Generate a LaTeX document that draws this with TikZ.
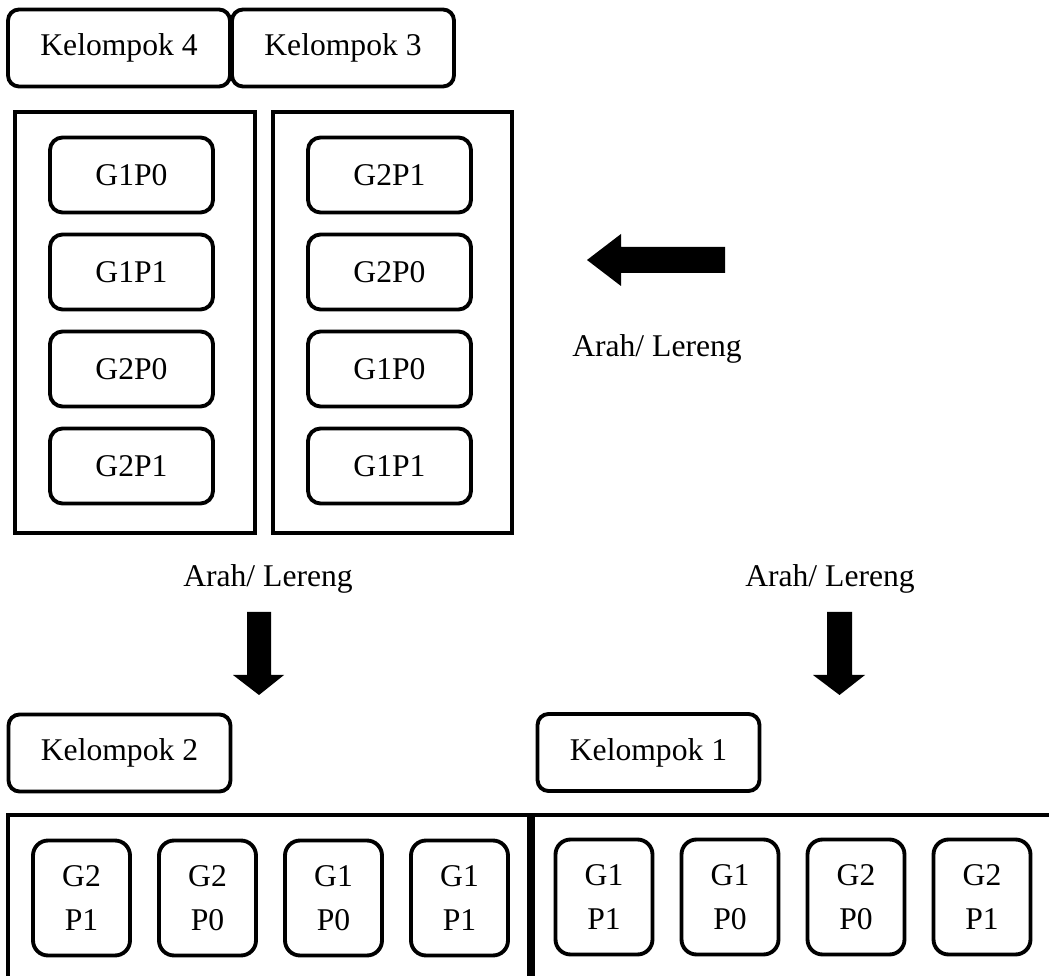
\documentclass[tikz,border=0pt]{standalone}
\usepackage{fontspec}
\setmainfont{Liberation Serif}
\usetikzlibrary{positioning}

\begin{document}
\begin{tikzpicture}[x=0.02cm,y=-0.02cm,
  font=\fontsize{18}{25}\selectfont,
  grp/.style={draw,line width=2.2pt,rounded corners=0.22cm,minimum width=4.44cm,minimum height=1.54cm},
  cell/.style={draw,line width=2.2pt,rounded corners=0.25cm,minimum width=3.26cm,minimum height=1.5cm},
  tall/.style={draw,line width=2.2pt,rounded corners=0.3cm,minimum width=1.94cm,minimum height=2.3cm,align=center},
  frame/.style={draw,line width=2.6pt}]
 \useasboundingbox (0,0) rectangle (1049,976);
 % top groups
 \node[grp] (k4) at (119,48) {Kelompok 4};
 \node[grp] (k3) at (343,48) {Kelompok 3};
 \draw[frame] (15,112) rectangle (255,533);
 \draw[frame] (273,112) rectangle (512,533);
 \foreach \t [count=\i from 0] in {G1P0,G1P1,G2P0,G2P1}
   \node[cell] (a\i) at (131.5,{175+97*\i}) {\t};
 \foreach \t [count=\i from 0] in {G2P1,G2P0,G1P0,G1P1}
   \node[cell] (b\i) at (389.5,{175+97*\i}) {\t};
 % slope arrows
 \fill (725,247) -- (621,247) -- (621,234) -- (587,260) -- (621,286) -- (621,273) -- (725,273) -- cycle;
 \node[anchor=base] (arah1) at (657,357) {Arah/ Lereng};
 \node[anchor=base] (arah2) at (268,587) {Arah/ Lereng};
 \node[anchor=base] (arah3) at (830,587) {Arah/ Lereng};
 \fill (247,612) -- (271,612) -- (271,675) -- (284,675) -- (259,695) -- (233,675) -- (247,675) -- cycle;
 \fill (827,612) -- (852,612) -- (852,675) -- (865,675) -- (839.5,695) -- (813,675) -- (827,675) -- cycle;
 % bottom groups
 \node[grp] (k2) at (119.5,753) {Kelompok 2};
 \node[grp] (k1) at (648.5,752.5) {Kelompok 1};
 \draw[frame] (8,815) rectangle (529,990);
 \draw[frame] (533,815) rectangle (1065,990);
 \foreach \g/\p [count=\i from 0] in {G2/P1,G2/P0,G1/P0,G1/P1}
   \node[tall] (c\i) at ({81.5+126*\i},898) {\g\\\p};
 \foreach \g/\p [count=\i from 0] in {G1/P1,G1/P0,G2/P0,G2/P1}
   \node[tall] (d\i) at ({604+126*\i},897) {\g\\\p};
\end{tikzpicture}
\end{document}
